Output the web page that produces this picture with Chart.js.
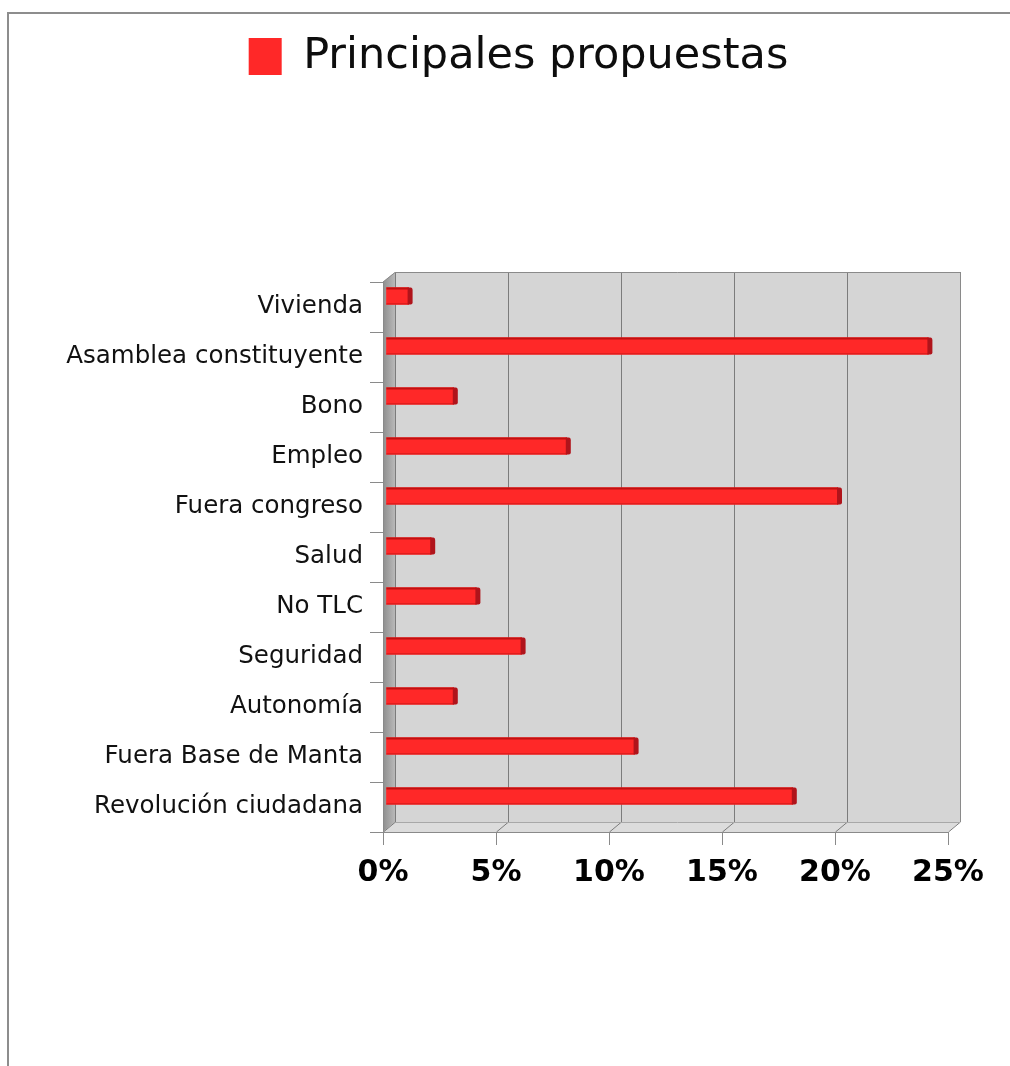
<!DOCTYPE html>
<html>
<head>
<meta charset="utf-8">
<title>Principales propuestas</title>
<script src="https://cdn.jsdelivr.net/npm/chart.js@4.4.1/dist/chart.umd.min.js"></script>
<style>
    html, body { margin: 0; padding: 0; background: #fff; }
    #wrap { position: relative; width: 1010px; height: 1066px; overflow: hidden; }
    #frame { position: absolute; left: 7px; top: 12px; right: -4px; bottom: -4px;
             border-left: 2px solid #8d8d8d; border-top: 2px solid #8d8d8d; }
    #propuestasChart { position: absolute; left: 0; top: 0; }
</style>
</head>
<body>
<div id="wrap">
    <div id="frame"></div>
    <canvas id="propuestasChart" width="1010" height="1066"></canvas>
</div>
<script>
const categorias = [
    "Vivienda",
    "Asamblea constituyente",
    "Bono",
    "Empleo",
    "Fuera congreso",
    "Salud",
    "No TLC",
    "Seguridad",
    "Autonomía",
    "Fuera Base de Manta",
    "Revolución ciudadana"
];
const porcentajes = [1, 24, 3, 8, 20, 2, 4, 6, 3, 11, 18];
const serieNombre = "Principales propuestas";
const ejeMax = 25;
const ejePaso = 5;

// plot box (front face) and 3d depth
const AREA = { left: 383, top: 282, right: 948, bottom: 832 };
const DX = 12, DY = 10;
const BAR_DX = 3, BAR_DY = -11;
const PAD = { top: 25, right: 0, bottom: 0, left: 27 };

const paredes3d = {
    id: 'paredes3d',
    beforeDraw(chart) {
        const { ctx, chartArea: a, scales: { x } } = chart;
        ctx.save();

        // back wall
        ctx.fillStyle = '#d5d5d5';
        ctx.fillRect(a.left + DX, a.top - DY, a.right - a.left, a.bottom - a.top);

        // floor
        ctx.fillStyle = '#dcdcdc';
        ctx.beginPath();
        ctx.moveTo(a.left, a.bottom);
        ctx.lineTo(a.left + DX, a.bottom - DY);
        ctx.lineTo(a.right + DX, a.bottom - DY);
        ctx.lineTo(a.right, a.bottom);
        ctx.closePath();
        ctx.fill();

        // left wall
        const g = ctx.createLinearGradient(a.left, 0, a.left + DX, 0);
        g.addColorStop(0, '#8e8e8e');
        g.addColorStop(1, '#b9b9b9');
        ctx.fillStyle = g;
        ctx.beginPath();
        ctx.moveTo(a.left, a.top);
        ctx.lineTo(a.left + DX, a.top - DY);
        ctx.lineTo(a.left + DX, a.bottom - DY);
        ctx.lineTo(a.left, a.bottom);
        ctx.closePath();
        ctx.fill();

        // grid on back wall, folding down over the floor
        ctx.strokeStyle = '#7c7c7c';
        ctx.lineWidth = 1;
        x.ticks.forEach(t => {
            const px = Math.round(x.getPixelForValue(t.value)) + 0.5;
            ctx.beginPath();
            ctx.moveTo(px + DX, a.top - DY);
            ctx.lineTo(px + DX, a.bottom - DY);
            ctx.lineTo(px, a.bottom);
            ctx.stroke();
        });

        // outline of the box
        ctx.strokeStyle = '#8a8a8a';
        ctx.beginPath();
        ctx.moveTo(a.left, a.top);
        ctx.lineTo(a.left + DX, a.top - DY + 0.5);
        ctx.lineTo(a.right + DX + 0.5, a.top - DY + 0.5);
        ctx.lineTo(a.right + DX + 0.5, a.bottom - DY);
        ctx.stroke();
        ctx.strokeStyle = '#a8a8a8';
        ctx.beginPath();
        ctx.moveTo(a.left + DX, a.bottom - DY + 0.5);
        ctx.lineTo(a.right + DX, a.bottom - DY + 0.5);
        ctx.stroke();

        ctx.restore();
    },
    beforeDatasetsDraw(chart) {
        chart.ctx.save();
        chart.ctx.translate(BAR_DX, BAR_DY);
    },
    afterDatasetsDraw(chart) {
        const ctx = chart.ctx;
        chart.getDatasetMeta(0).data.forEach(bar => {
            const { x, y, base, height: h } = bar.getProps(['x', 'y', 'base', 'height'], true);
            const top = y - h / 2;
            // darker rims on top and bottom
            ctx.fillStyle = 'rgba(170,10,10,0.75)';
            ctx.fillRect(base, top, x - base, 2);
            ctx.fillStyle = 'rgba(190,15,15,0.45)';
            ctx.fillRect(base, top + h - 1.5, x - base, 1.5);
            // end face
            ctx.fillStyle = '#b0141b';
            ctx.beginPath();
            ctx.moveTo(x - 1, top);
            ctx.lineTo(x + 2, top);
            ctx.quadraticCurveTo(x + 4, top, x + 4, top + 3);
            ctx.lineTo(x + 4, top + h - 2);
            ctx.quadraticCurveTo(x + 4, top + h, x + 2, top + h);
            ctx.lineTo(x - 1, top + h);
            ctx.closePath();
            ctx.fill();
        });
        ctx.restore();
    }
};

const ctx = document.getElementById('propuestasChart').getContext('2d');

new Chart(ctx, {
    type: 'bar',
    data: {
        labels: categorias,
        datasets: [{
            label: serieNombre,
            data: porcentajes,
            backgroundColor: '#ff2828',
            borderWidth: 0,
            barThickness: 17,
            clip: false
        }]
    },
    options: {
        indexAxis: 'y',
        responsive: false,
        animation: false,
        layout: { padding: PAD },
        plugins: {
            legend: {
                position: 'top',
                labels: {
                    color: '#0d0d0d',
                    boxWidth: 33,
                    boxHeight: 37,
                    padding: 10,
                    font: { family: 'DejaVu Sans', size: 43 }
                }
            },
            tooltip: { enabled: false }
        },
        scales: {
            x: {
                type: 'linear',
                position: 'bottom',
                min: 0,
                max: ejeMax,
                ticks: {
                    stepSize: ejePaso,
                    padding: 10,
                    color: '#000',
                    font: { family: 'DejaVu Sans', size: 30, weight: 'bold' },
                    callback: v => v + '%'
                },
                grid: { drawOnChartArea: false, drawTicks: true, tickLength: 13, color: '#8a8a8a' },
                border: { display: true, color: '#8a8a8a' },
                afterFit(s) { s.height = 1066 - AREA.bottom - PAD.bottom; }
            },
            y: {
                type: 'category',
                position: 'left',
                ticks: {
                    padding: 7,
                    color: '#111',
                    font: { family: 'DejaVu Sans', size: 24.5 }
                },
                grid: { offset: true, drawOnChartArea: false, drawTicks: true, tickLength: 13, color: '#8a8a8a' },
                border: { display: true, color: '#8a8a8a' },
                afterFit(s) { s.width = AREA.left - PAD.left; }
            },
            // empty axes that only reserve room around the plot
            xTop: {
                type: 'linear',
                position: 'top',
                ticks: { display: false },
                grid: { display: false },
                border: { display: false },
                afterFit(s) { s.height = AREA.top - PAD.top - s.chart.legend.height; }
            },
            yR: {
                type: 'linear',
                position: 'right',
                ticks: { display: false },
                grid: { display: false },
                border: { display: false },
                afterFit(s) { s.width = 1010 - AREA.right - PAD.right; }
            }
        }
    },
    plugins: [paredes3d]
});
</script>
</body>
</html>
